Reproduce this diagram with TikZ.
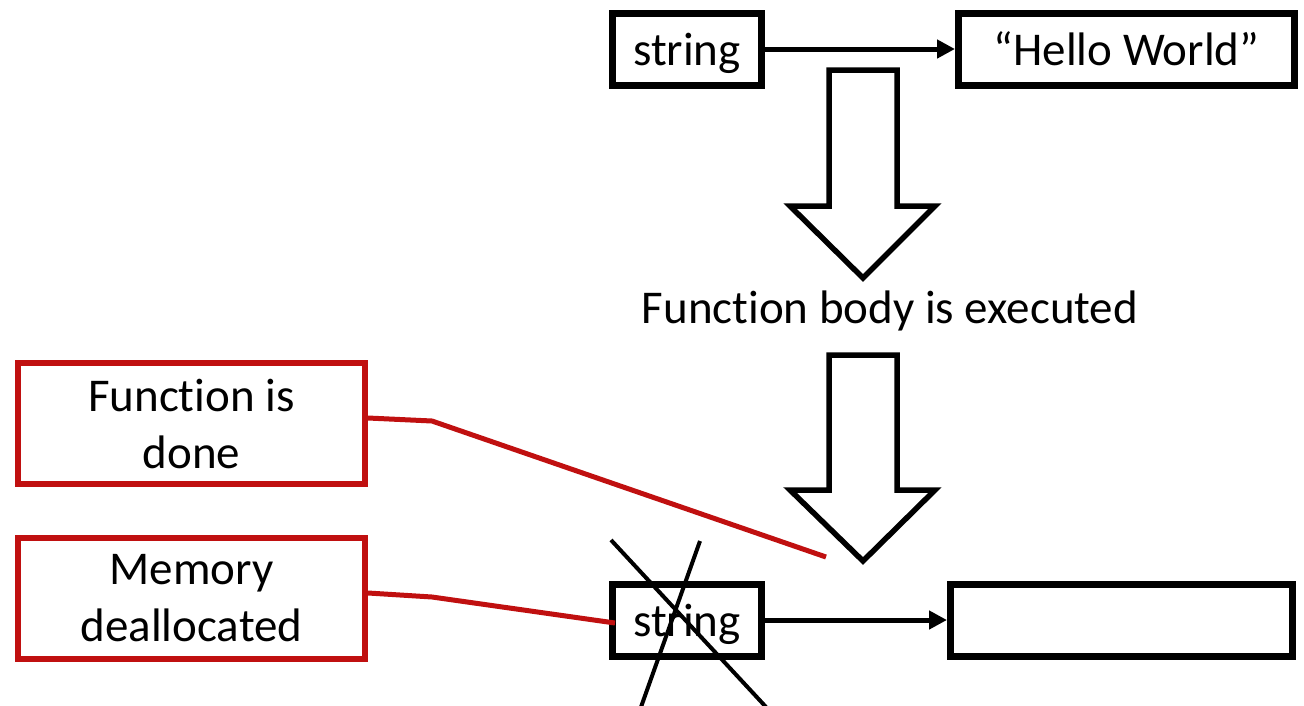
\documentclass[tikz,border=0pt]{standalone}
\usepackage{fontspec}
\setmainfont{Carlito}[Ligatures={NoCommon}]
\usetikzlibrary{arrows.meta}
\definecolor{calloutred}{RGB}{192,16,16}
\begin{document}
\begin{tikzpicture}[x=1pt,y=-1pt,
  box/.style={draw=black,line width=7pt,inner sep=0pt,minimum height=72pt,text height=42pt,text depth=10pt,font=\fontsize{47}{57}\selectfont},
  redbox/.style={draw=calloutred,line width=6pt,inner sep=0pt,minimum width=347pt,minimum height=121pt,align=center,font=\fontsize{47}{57}\selectfont},
  link/.style={line width=5pt,-{Triangle[length=18pt,width=18pt]}},
  bigarrow/.style={draw=black,line width=5.5pt,fill=white,line join=miter},
  redline/.style={draw=calloutred,line width=5pt},
  crossline/.style={draw=black,line width=4pt}]
\useasboundingbox (0,0) rectangle (1304,705);
% top row
\node[box,minimum width=149pt] (s1) at (687,49) {string};
\node[box,minimum width=336pt] (h1) at (1126.5,49) {“Hello World”};
\draw[link] (s1.east) -- (h1.west);
% big arrows
\draw[bigarrow] (829,70) -- (897,70) -- (897,206) -- (935,206) -- (863,278) -- (790,206) -- (829,206) -- cycle;
\node[font=\fontsize{47}{57}\selectfont,anchor=base] (body) at (890,323) {Function body is executed};
\draw[bigarrow] (829,355) -- (897,355) -- (897,490) -- (935,490) -- (863,561) -- (790,490) -- (829,490) -- cycle;
% bottom row
\node[box,minimum width=149pt] (s2) at (687,620) {string};
\node[box,minimum width=342pt] (h2) at (1121.5,620) {};
\draw[link] (s2.east) -- (h2.west);
% cross
\coordinate (c1a) at (611,540);
\coordinate (c1b) at (766,707);
\coordinate (c2a) at (700,541);
\coordinate (c2b) at (641,707);
\draw[crossline] (c1a) -- (c1b);
\draw[crossline] (c2a) -- (c2b);
% callouts
\node[redbox] (done) at (191.5,423.5) {Function is\\done};
\node[redbox] (mem) at (191.5,598.5) {Memory\\deallocated};
\coordinate (e1) at (826,557);
\coordinate (e2) at (615,623);
\draw[redline] (done.east |- 0,418) -- (432,421) -- (e1);
\draw[redline] (mem.east |- 0,593) -- (432,597) -- (e2);
\end{tikzpicture}
\end{document}
